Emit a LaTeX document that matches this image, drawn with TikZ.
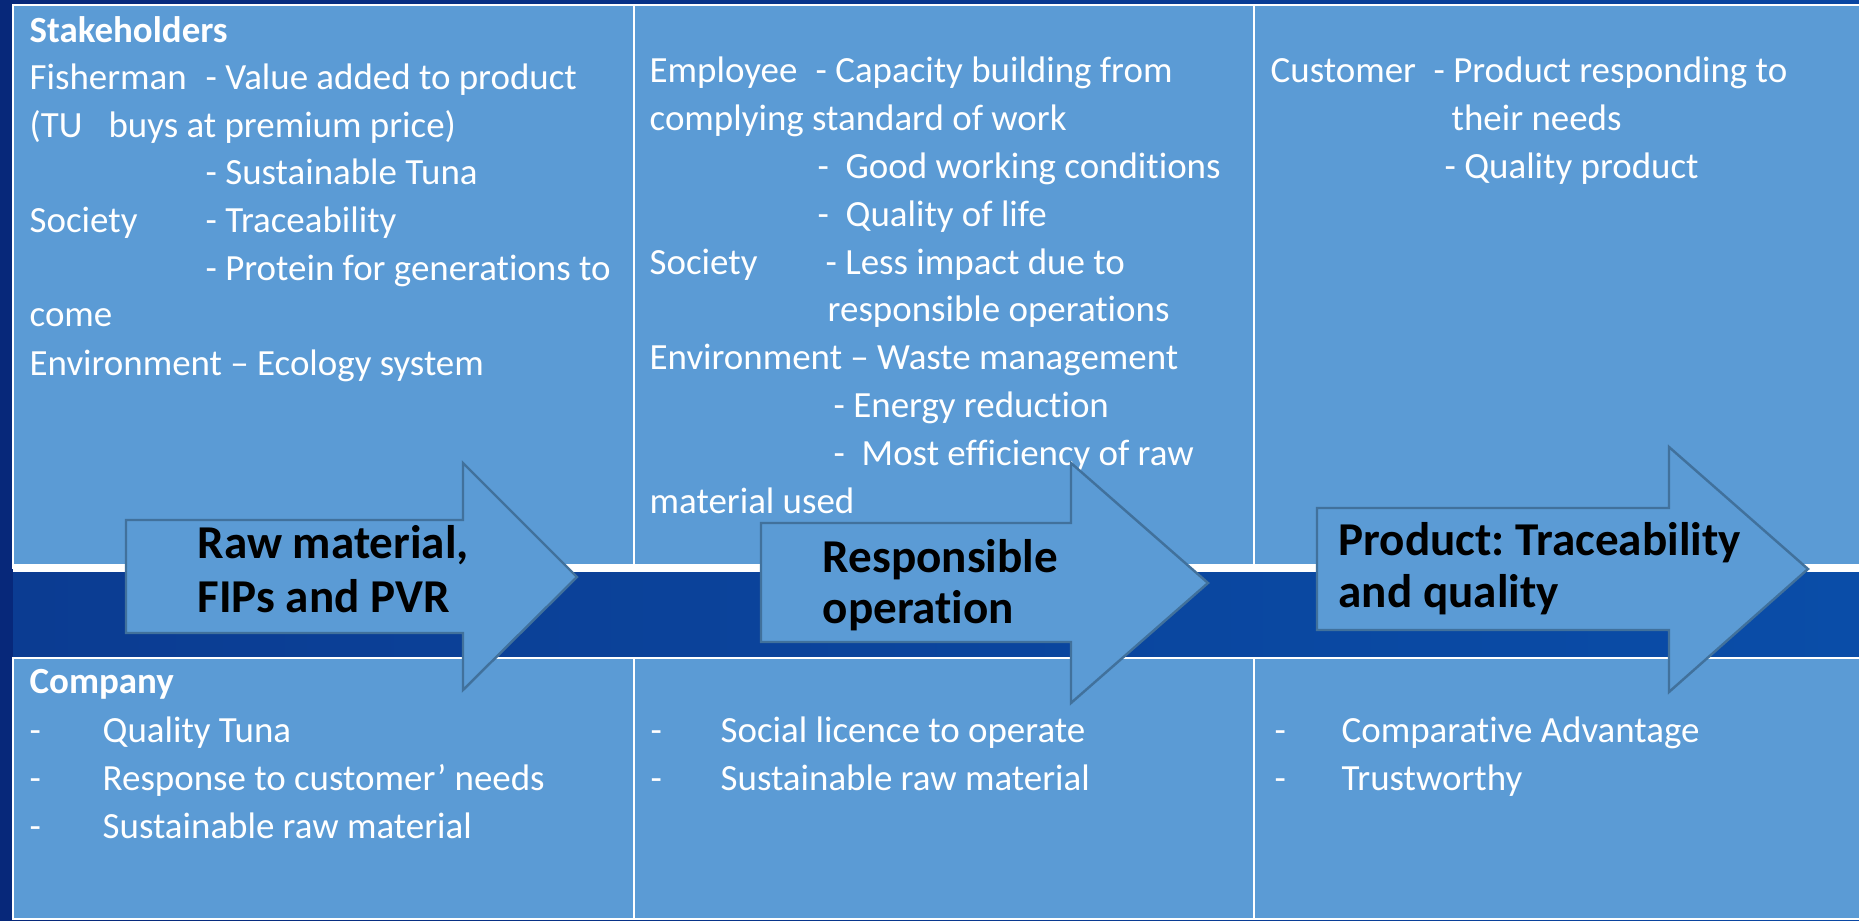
\documentclass[tikz,border=0pt]{standalone}
\usepackage{fontspec}
\setmainfont{Carlito}[Ligatures=NoCommon]
\frenchspacing
\definecolor{cellblue}{HTML}{5B9BD5}
\definecolor{edgeblue}{HTML}{41719C}
\definecolor{navyleft}{HTML}{07287A}
\definecolor{navyright}{HTML}{0A47A3}
\definecolor{bandleft}{HTML}{0B3C92}
\definecolor{bandright}{HTML}{0A4DA8}

\begin{document}
\begin{tikzpicture}[x=0.01cm,y=-0.01cm,
	cell/.style={draw=white,line width=0.6pt,fill=cellblue,anchor=north west,inner sep=0,outer sep=0},
	txt/.style={anchor=base west,inner sep=0,text=white,font=\fontsize{10.5}{12}\selectfont},
	bold/.style={txt,font=\fontsize{10.5}{12}\selectfont\bfseries},
	flow/.style={draw=edgeblue,line width=0.7pt,fill=cellblue,line join=miter},
	flowtext/.style={anchor=base west,inner sep=0,text=black,font=\fontsize{13.4}{15}\selectfont\bfseries}]
				    \useasboundingbox (0,0) rectangle (1859,921);
				    \fill [left color=navyleft,right color=navyright] (0,0) rectangle (1859,921);
				    \fill [left color=bandleft,right color=bandright] (13,568) rectangle (1859,658);

				    % Place cells
				    \node [cell,minimum width=6.21cm,minimum height=5.63cm] (stake) at (13,5) {};
				    \node [cell,minimum width=6.20cm,minimum height=5.63cm] (employ) at (634,5) {};
				    \node [cell,minimum width=6.10cm,minimum height=5.63cm] (custom) at (1254,5) {};
				    \node [cell,minimum width=6.21cm,minimum height=2.61cm] (company) at (13,658) {};
				    \node [cell,minimum width=6.20cm,minimum height=2.61cm] (licence) at (634,658) {};
				    \node [cell,minimum width=6.10cm,minimum height=2.61cm] (advant) at (1254,658) {};
				    \draw [white,line width=2.3pt] (stake.south west) -- (custom.south east);

				    % Stakeholders
				    \node [bold] (sth) at (29,42) {Stakeholders};
				    \node [txt] (fish) at (29,90) {Fisherman};
				    \node [txt] (fish1) at (205,90) {- Value added to product};
				    \node [txt] (fish2) at (29,137) {(TU\hspace{0.26cm}buys at premium price)};
				    \node [txt] (fish3) at (205,185) {- Sustainable Tuna};
				    \node [txt] (soc) at (29,232) {Society};
				    \node [txt] (soc1) at (205,232) {- Traceability};
				    \node [txt] (soc2) at (205,280) {- Protein for generations to};
				    \node [txt] (soc3) at (29,327) {come};
				    \node [txt] (env) at (29,375) {Environment – Ecology system};

				    \node [txt] (emp) at (649,82) {Employee};
				    \node [txt] (emp1) at (815,82) {- Capacity building from};
				    \node [txt] (emp2) at (649,130) {complying standard of work};
				    \node [txt] (emp3) at (817,178) {-\ \ Good working conditions};
				    \node [txt] (emp4) at (817,226) {-\ \ Quality of life};
				    \node [txt] (soc4) at (649,274) {Society};
				    \node [txt] (soc5) at (825,274) {- Less impact due to};
				    \node [txt] (soc6) at (827,321) {responsible operations};
				    \node [txt] (env1) at (649,369) {Environment – Waste management};
				    \node [txt] (env2) at (833,417) {- Energy reduction};
				    \node [txt] (env3) at (833,465) {-\ \ Most efficiency of raw};
				    \node [txt] (env4) at (649,513) {material used};

				    \node [txt] (cus) at (1270,82) {Customer};
				    \node [txt] (cus1) at (1433,82) {- Product responding to};
				    \node [txt] (cus2) at (1451,130) {their needs};
				    \node [txt] (cus3) at (1444,178) {- Quality product};

				    % Company
				    \node [bold] (com) at (29,693) {Company};
				    \node [txt] (comd1) at (29,742) {-};
				    \node [txt] (com1) at (102,742) {Quality Tuna};
				    \node [txt] (comd2) at (29,790) {-};
				    \node [txt] (com2) at (102,790) {Response to customer’ needs};
				    \node [txt] (comd3) at (29,838) {-};
				    \node [txt] (com3) at (102,838) {Sustainable raw material};

				    \node [txt] (licd1) at (650,742) {-};
				    \node [txt] (lic1) at (720,742) {Social licence to operate};
				    \node [txt] (licd2) at (650,790) {-};
				    \node [txt] (lic2) at (720,790) {Sustainable raw material};

				    \node [txt] (advd1) at (1274,742) {-};
				    \node [txt] (adv1) at (1341,742) {Comparative Advantage};
				    \node [txt] (advd2) at (1274,790) {-};
				    \node [txt] (adv2) at (1341,790) {Trustworthy};

				    % Arrows
				    \draw [flow] (126,520) -- (463,520) -- (463,463) -- (577,577) -- (463,690) -- (463,633) -- (126,633) -- cycle;
				    \draw [flow] (761,523) -- (1071,523) -- (1071,463) -- (1208,583) -- (1071,703) -- (1071,642) -- (761,642) -- cycle;
				    \draw [flow] (1317,508) -- (1669,508) -- (1669,447) -- (1808,569) -- (1669,692) -- (1669,630) -- (1317,630) -- cycle;

				    \node [flowtext] (raw1) at (197,558) {Raw material,};
				    \node [flowtext] (raw2) at (197,612) {FIPs and PVR};
				    \node [flowtext] (resp1) at (822,572) {Responsible};
				    \node [flowtext] (resp2) at (822,623) {operation};
				    \node [flowtext] (prod1) at (1338,555) {Product: Traceability};
				    \node [flowtext] (prod2) at (1338,607) {and quality};
				\end{tikzpicture}
\end{document}
